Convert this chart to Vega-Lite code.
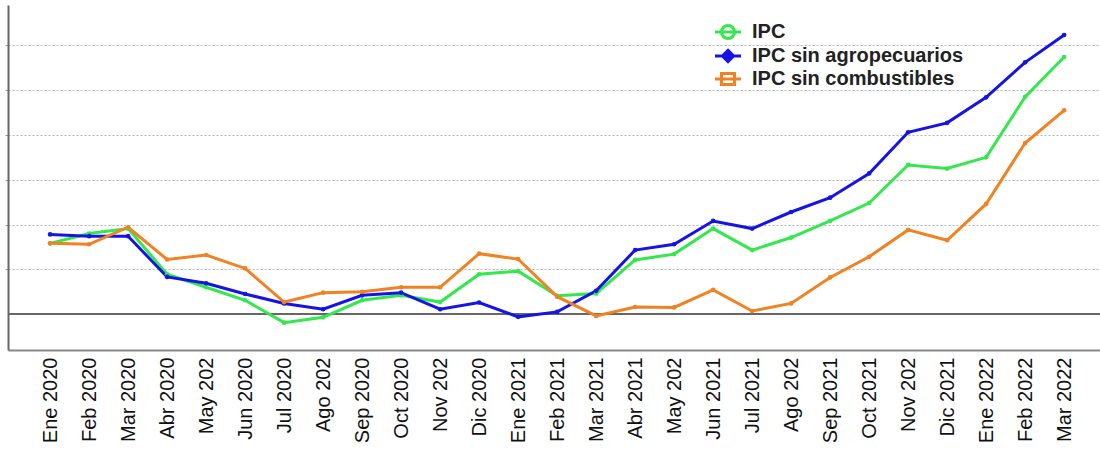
{
  "$schema": "https://vega.github.io/schema/vega-lite/v6.json",
  "width": 1092,
  "height": 345,
  "autosize": {"type": "none"},
  "padding": {"left": 8, "top": 5, "right": 0, "bottom": 100},
  "background": "white",
  "config": {"view": {"stroke": null}, "font": "Liberation Sans"},
  "data": {
    "values": [
      {"mes": "Ene 2020", "serie": "IPC", "valor": 1.58},
      {"mes": "Feb 2020", "serie": "IPC", "valor": 1.80},
      {"mes": "Mar 2020", "serie": "IPC", "valor": 1.91},
      {"mes": "Abr 2020", "serie": "IPC", "valor": 0.89},
      {"mes": "May 2020", "serie": "IPC", "valor": 0.60},
      {"mes": "Jun 2020", "serie": "IPC", "valor": 0.31},
      {"mes": "Jul 2020", "serie": "IPC", "valor": -0.19},
      {"mes": "Ago 2020", "serie": "IPC", "valor": -0.07},
      {"mes": "Sep 2020", "serie": "IPC", "valor": 0.31},
      {"mes": "Oct 2020", "serie": "IPC", "valor": 0.42},
      {"mes": "Nov 2020", "serie": "IPC", "valor": 0.27},
      {"mes": "Dic 2020", "serie": "IPC", "valor": 0.89},
      {"mes": "Ene 2021", "serie": "IPC", "valor": 0.96},
      {"mes": "Feb 2021", "serie": "IPC", "valor": 0.41},
      {"mes": "Mar 2021", "serie": "IPC", "valor": 0.46},
      {"mes": "Abr 2021", "serie": "IPC", "valor": 1.21},
      {"mes": "May 2021", "serie": "IPC", "valor": 1.34},
      {"mes": "Jun 2021", "serie": "IPC", "valor": 1.91},
      {"mes": "Jul 2021", "serie": "IPC", "valor": 1.43},
      {"mes": "Ago 2021", "serie": "IPC", "valor": 1.71},
      {"mes": "Sep 2021", "serie": "IPC", "valor": 2.08},
      {"mes": "Oct 2021", "serie": "IPC", "valor": 2.48},
      {"mes": "Nov 2021", "serie": "IPC", "valor": 3.33},
      {"mes": "Dic 2021", "serie": "IPC", "valor": 3.25},
      {"mes": "Ene 2022", "serie": "IPC", "valor": 3.50},
      {"mes": "Feb 2022", "serie": "IPC", "valor": 4.85},
      {"mes": "Mar 2022", "serie": "IPC", "valor": 5.74},
      {"mes": "Ene 2020", "serie": "IPC sin agropecuarios", "valor": 1.78},
      {"mes": "Feb 2020", "serie": "IPC sin agropecuarios", "valor": 1.74},
      {"mes": "Mar 2020", "serie": "IPC sin agropecuarios", "valor": 1.74},
      {"mes": "Abr 2020", "serie": "IPC sin agropecuarios", "valor": 0.83},
      {"mes": "May 2020", "serie": "IPC sin agropecuarios", "valor": 0.69},
      {"mes": "Jun 2020", "serie": "IPC sin agropecuarios", "valor": 0.45},
      {"mes": "Jul 2020", "serie": "IPC sin agropecuarios", "valor": 0.24},
      {"mes": "Ago 2020", "serie": "IPC sin agropecuarios", "valor": 0.11},
      {"mes": "Sep 2020", "serie": "IPC sin agropecuarios", "valor": 0.42},
      {"mes": "Oct 2020", "serie": "IPC sin agropecuarios", "valor": 0.48},
      {"mes": "Nov 2020", "serie": "IPC sin agropecuarios", "valor": 0.11},
      {"mes": "Dic 2020", "serie": "IPC sin agropecuarios", "valor": 0.26},
      {"mes": "Ene 2021", "serie": "IPC sin agropecuarios", "valor": -0.06},
      {"mes": "Feb 2021", "serie": "IPC sin agropecuarios", "valor": 0.05},
      {"mes": "Mar 2021", "serie": "IPC sin agropecuarios", "valor": 0.52},
      {"mes": "Abr 2021", "serie": "IPC sin agropecuarios", "valor": 1.43},
      {"mes": "May 2021", "serie": "IPC sin agropecuarios", "valor": 1.56},
      {"mes": "Jun 2021", "serie": "IPC sin agropecuarios", "valor": 2.08},
      {"mes": "Jul 2021", "serie": "IPC sin agropecuarios", "valor": 1.91},
      {"mes": "Ago 2021", "serie": "IPC sin agropecuarios", "valor": 2.28},
      {"mes": "Sep 2021", "serie": "IPC sin agropecuarios", "valor": 2.60},
      {"mes": "Oct 2021", "serie": "IPC sin agropecuarios", "valor": 3.14},
      {"mes": "Nov 2021", "serie": "IPC sin agropecuarios", "valor": 4.06},
      {"mes": "Dic 2021", "serie": "IPC sin agropecuarios", "valor": 4.27},
      {"mes": "Ene 2022", "serie": "IPC sin agropecuarios", "valor": 4.84},
      {"mes": "Feb 2022", "serie": "IPC sin agropecuarios", "valor": 5.62},
      {"mes": "Mar 2022", "serie": "IPC sin agropecuarios", "valor": 6.23},
      {"mes": "Ene 2020", "serie": "IPC sin combustibles", "valor": 1.58},
      {"mes": "Feb 2020", "serie": "IPC sin combustibles", "valor": 1.56},
      {"mes": "Mar 2020", "serie": "IPC sin combustibles", "valor": 1.94},
      {"mes": "Abr 2020", "serie": "IPC sin combustibles", "valor": 1.22},
      {"mes": "May 2020", "serie": "IPC sin combustibles", "valor": 1.32},
      {"mes": "Jun 2020", "serie": "IPC sin combustibles", "valor": 1.02},
      {"mes": "Jul 2020", "serie": "IPC sin combustibles", "valor": 0.27},
      {"mes": "Ago 2020", "serie": "IPC sin combustibles", "valor": 0.48},
      {"mes": "Sep 2020", "serie": "IPC sin combustibles", "valor": 0.50},
      {"mes": "Oct 2020", "serie": "IPC sin combustibles", "valor": 0.60},
      {"mes": "Nov 2020", "serie": "IPC sin combustibles", "valor": 0.60},
      {"mes": "Dic 2020", "serie": "IPC sin combustibles", "valor": 1.35},
      {"mes": "Ene 2021", "serie": "IPC sin combustibles", "valor": 1.23},
      {"mes": "Feb 2021", "serie": "IPC sin combustibles", "valor": 0.39},
      {"mes": "Mar 2021", "serie": "IPC sin combustibles", "valor": -0.04},
      {"mes": "Abr 2021", "serie": "IPC sin combustibles", "valor": 0.16},
      {"mes": "May 2021", "serie": "IPC sin combustibles", "valor": 0.15},
      {"mes": "Jun 2021", "serie": "IPC sin combustibles", "valor": 0.54},
      {"mes": "Jul 2021", "serie": "IPC sin combustibles", "valor": 0.07},
      {"mes": "Ago 2021", "serie": "IPC sin combustibles", "valor": 0.24},
      {"mes": "Sep 2021", "serie": "IPC sin combustibles", "valor": 0.82},
      {"mes": "Oct 2021", "serie": "IPC sin combustibles", "valor": 1.28},
      {"mes": "Nov 2021", "serie": "IPC sin combustibles", "valor": 1.88},
      {"mes": "Dic 2021", "serie": "IPC sin combustibles", "valor": 1.65},
      {"mes": "Ene 2022", "serie": "IPC sin combustibles", "valor": 2.46},
      {"mes": "Feb 2022", "serie": "IPC sin combustibles", "valor": 3.82},
      {"mes": "Mar 2022", "serie": "IPC sin combustibles", "valor": 4.55}
    ]
  },
  "encoding": {
    "x": {
      "field": "mes",
      "type": "ordinal",
      "sort": null,
      "scale": {"type": "point", "padding": 1.13, "align": 0.54},
      "axis": {
        "title": null,
        "labelAngle": 270,
        "labelFont": "Liberation Sans",
        "labelFontSize": 20,
        "labelColor": "#111",
        "labelPadding": 7,
        "labelLimit": 200,
        "labelExpr": "test(/^(May|Ago|Nov) /, datum.value) ? slice(datum.value, 0, 7) : datum.value",
        "ticks": false,
        "grid": false,
        "domainColor": "#888",
        "domainWidth": 2
      }
    },
    "y": {
      "field": "valor",
      "type": "quantitative",
      "scale": {"domain": [-0.8, 6.9], "nice": false, "zero": false},
      "axis": {
        "title": null,
        "labels": false,
        "values": [1, 2, 3, 4, 5, 6],
        "ticks": true,
        "tickSize": 3,
        "tickColor": "#999",
        "grid": true,
        "gridColor": "#b4b4b4",
        "gridDash": [2, 2],
        "gridWidth": 1,
        "domainColor": "#666",
        "domainWidth": 2
      }
    },
    "color": {
      "field": "serie",
      "type": "nominal",
      "scale": {
        "domain": ["IPC", "IPC sin agropecuarios", "IPC sin combustibles"],
        "range": ["#33e84c", "#1414e6", "#f08222"]
      }
    }
  },
  "layer": [
    {
      "mark": {"type": "rule", "color": "#666", "strokeWidth": 1.5},
      "encoding": {"y": {"datum": 0}, "x": null, "color": null}
    },
    {
      "mark": {"type": "line", "strokeWidth": 3},
      "encoding": {
        "color": {
          "field": "serie",
          "type": "nominal",
          "legend": {
            "title": null,
            "orient": "none",
            "legendX": 709,
            "legendY": 16,
            "padding": 0,
            "labelFont": "Liberation Sans",
            "labelFontSize": 20,
            "labelFontWeight": "bold",
            "labelColor": "#222",
            "labelOffset": 13,
            "labelLimit": 400,
            "rowPadding": -1,
            "symbolSize": 346,
            "symbolStrokeWidth": 3,
            "encode": {
              "symbols": {
                "update": {
                  "shape": {"signal": "datum.value === 'IPC' ? 'M-1.4,0L1.4,0M0.7,0A0.7,0.7,0,1,1,-0.7,0A0.7,0.7,0,1,1,0.7,0Z' : datum.value === 'IPC sin agropecuarios' ? 'M-1.4,0L1.4,0M0,-0.6L0.6,0L0,0.6L-0.6,0Z' : 'M-1.4,0L1.4,0M-0.7,-0.6L0.7,-0.6L0.7,0.6L-0.7,0.6Z'"},
                  "fillOpacity": {"signal": "datum.value === 'IPC sin agropecuarios' ? 1 : 0"}
                }
              }
            }
          }
        }
      }
    },
    {
      "mark": {"type": "point", "filled": true, "size": 22, "opacity": 1},
      "encoding": {"color": {"field": "serie", "type": "nominal", "legend": null}}
    }
  ]
}
